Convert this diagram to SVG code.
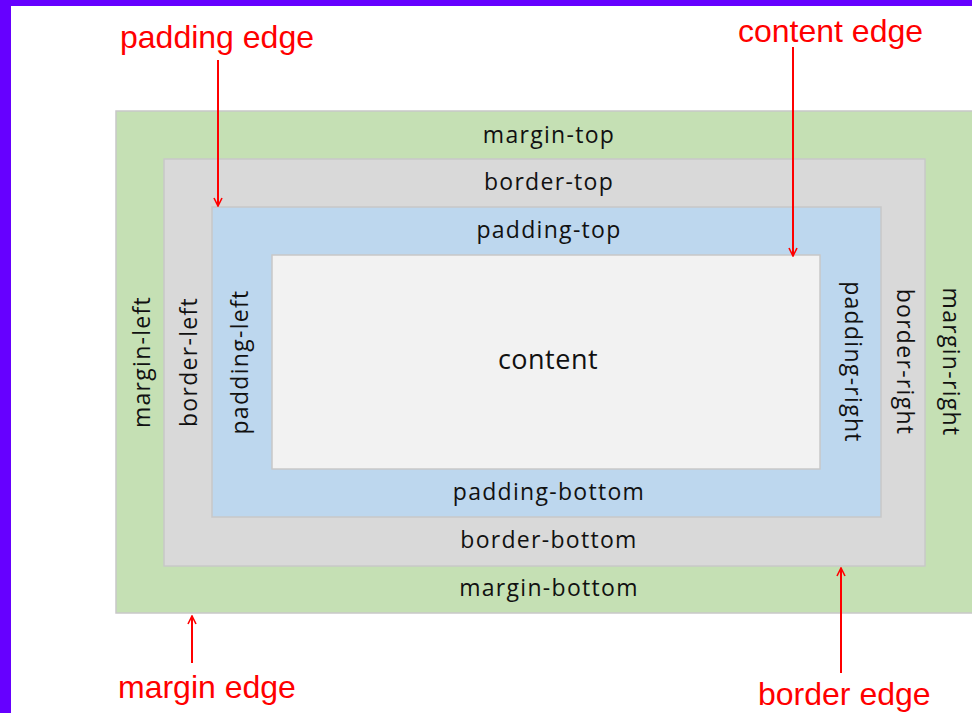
<svg xmlns="http://www.w3.org/2000/svg" width="972" height="713" viewBox="0 0 972 713">
<defs>
<marker id="ah" viewBox="0 0 10 10" refX="9" refY="5" markerWidth="10" markerHeight="10" markerUnits="userSpaceOnUse" orient="auto">
<path d="M1,1 L9,5 L1,9" fill="none" stroke="#FF0000" stroke-width="1.6"/>
</marker>
</defs>
<style>
.box{stroke:#C8C8C8;stroke-width:1.5}
.lbl{font-family:"Open Sans","Noto Sans",sans-serif;font-size:23px;letter-spacing:1.3px;fill:#111111;text-anchor:middle}
.red{font-family:"Liberation Sans",Arial,sans-serif;font-size:32px;fill:#FF0000}
.arr{stroke:#FF0000;stroke-width:2;fill:none;marker-end:url(#ah)}
</style>
<rect x="0" y="0" width="972" height="713" fill="#FFFFFF"/>
<rect x="0" y="0" width="972" height="6" fill="#6600FF"/>
<rect x="0" y="0" width="11" height="713" fill="#6600FF"/>
<g id="margin">
<rect class="box" x="116" y="111" width="870" height="502" fill="#C5E0B4"/>
<text class="lbl" x="549" y="143">margin-top</text>
<text class="lbl" x="549" y="596">margin-bottom</text>
<text class="lbl" transform="translate(150,362) rotate(-90)">margin-left</text>
<text class="lbl" transform="translate(943,362) rotate(90)">margin-right</text>
</g>
<g id="border">
<rect class="box" x="164" y="159" width="761" height="407" fill="#D9D9D9"/>
<text class="lbl" x="549" y="190">border-top</text>
<text class="lbl" x="549" y="548">border-bottom</text>
<text class="lbl" transform="translate(197,362) rotate(-90)">border-left</text>
<text class="lbl" transform="translate(897,362) rotate(90)">border-right</text>
</g>
<g id="padding">
<rect class="box" x="212" y="207" width="669" height="310" fill="#BDD7EE"/>
<text class="lbl" x="549" y="238">padding-top</text>
<text class="lbl" x="549" y="500">padding-bottom</text>
<text class="lbl" transform="translate(248,362) rotate(-90)">padding-left</text>
<text class="lbl" transform="translate(845,362) rotate(90)">padding-right</text>
</g>
<g id="content">
<rect class="box" x="272" y="255" width="548" height="214" fill="#F2F2F2"/>
<text class="lbl" x="548" y="369" style="font-size:27px;letter-spacing:0.5px">content</text>
</g>
<g id="labels">
<text class="red" x="120" y="48">padding edge</text>
<text class="red" x="738" y="42">content edge</text>
<text class="red" x="118" y="698">margin edge</text>
<text class="red" x="758" y="705">border edge</text>
</g>
<g id="connectors">
<line class="arr" x1="218" y1="60" x2="218" y2="206"/>
<line class="arr" x1="793" y1="47" x2="793" y2="256"/>
<line class="arr" x1="192" y1="663" x2="192" y2="616"/>
<line class="arr" x1="841" y1="673" x2="841" y2="568"/>
</g>
</svg>
